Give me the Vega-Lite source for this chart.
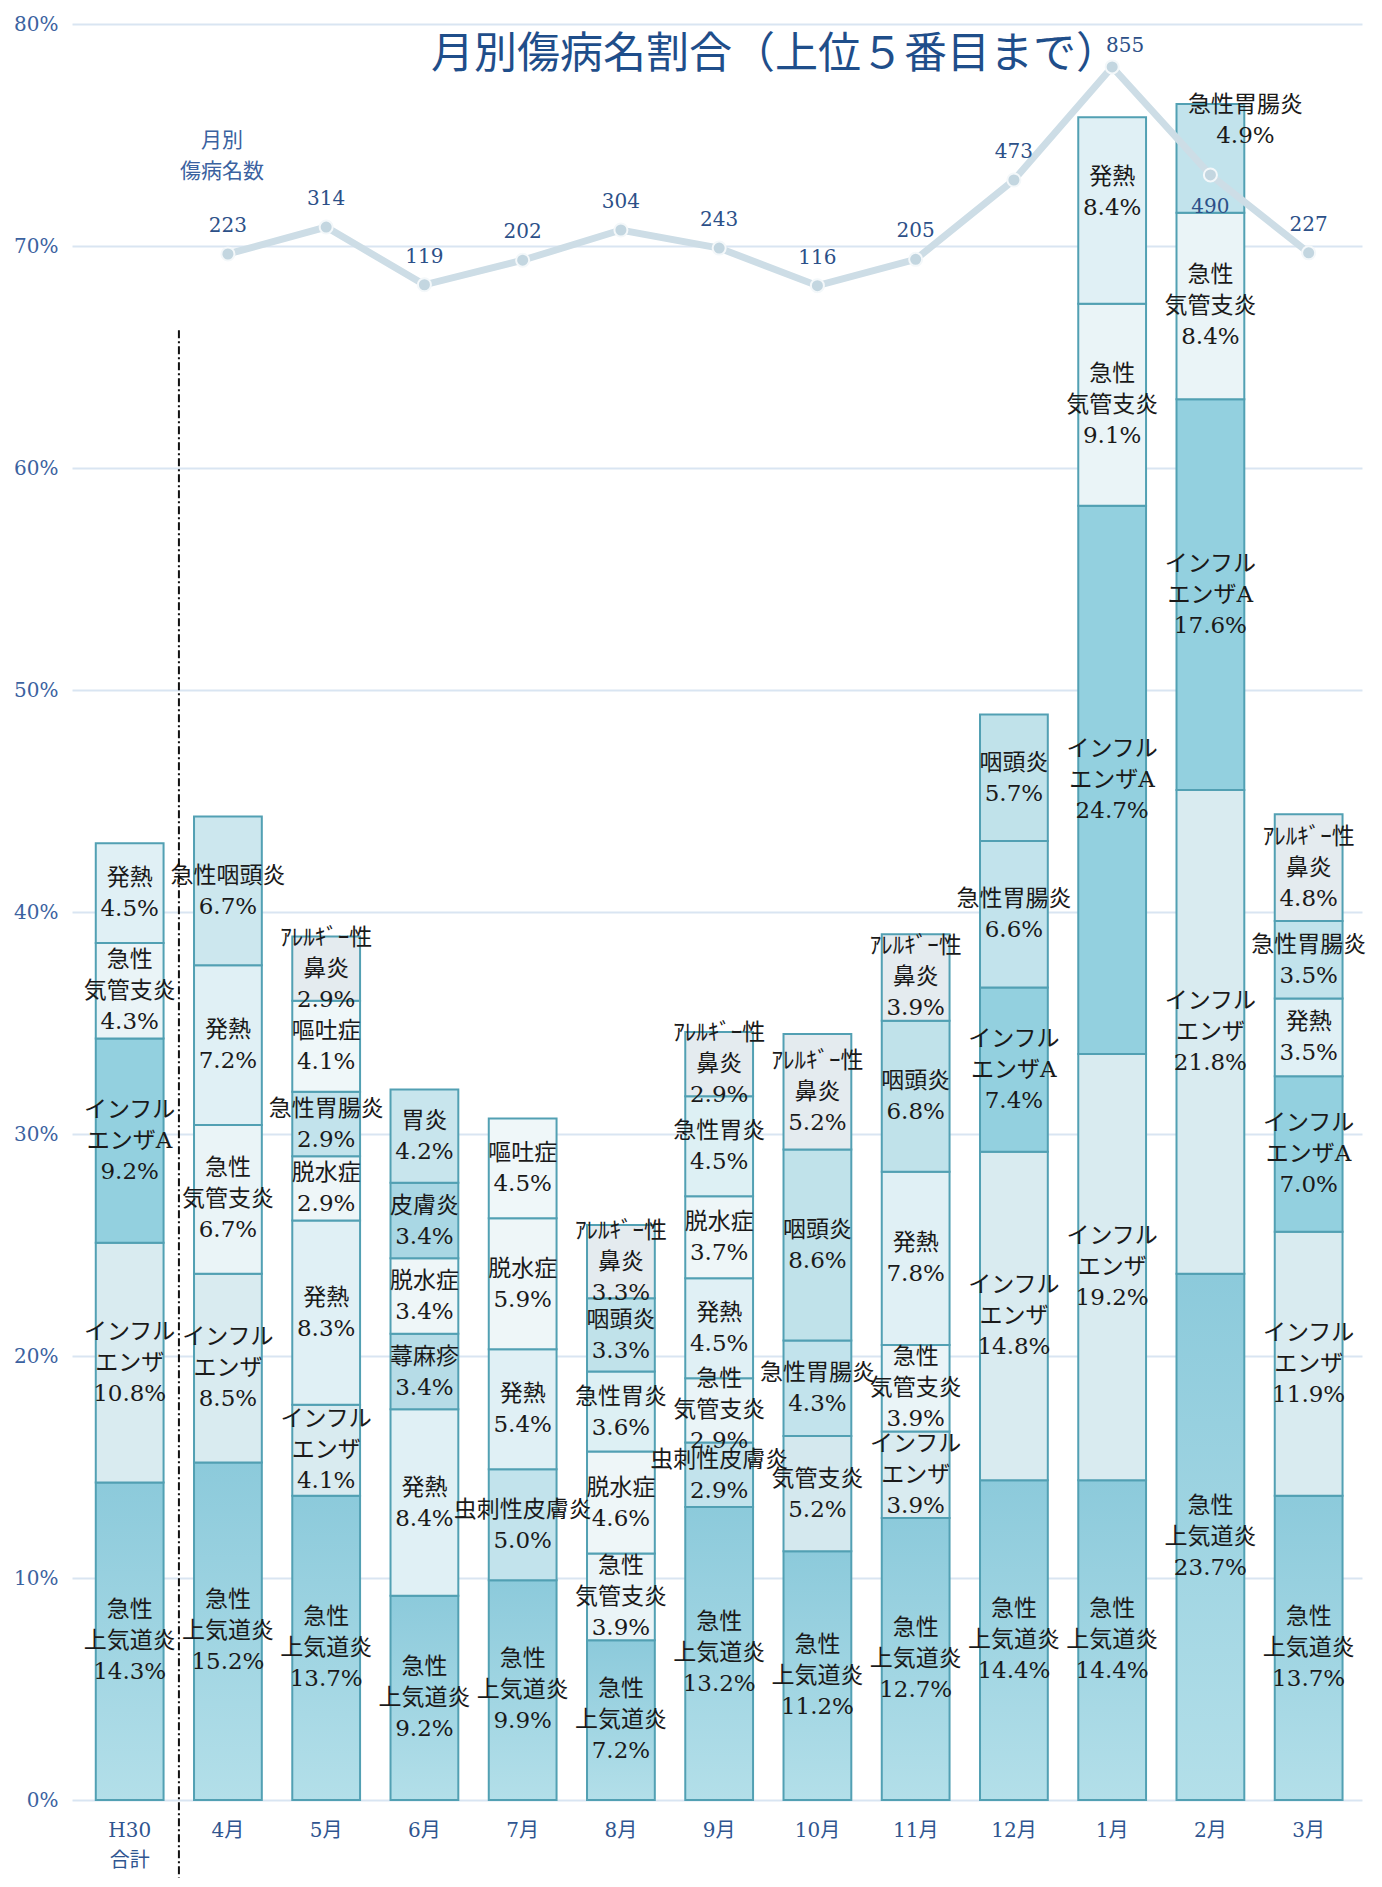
{
  "$schema": "https://vega.github.io/schema/vega-lite/v6.json",
  "width": 1290,
  "height": 1776,
  "autosize": {"type": "none"},
  "padding": {"left": 72, "top": 24, "right": 20, "bottom": 87},
  "background": "white",
  "config": {"view": {"stroke": null}},
  "title": {
    "text": "月別傷病名割合（上位５番目まで）",
    "font": "Noto Sans CJK JP",
    "fontSize": 43,
    "fontWeight": "normal",
    "color": "#1f4e8a",
    "anchor": "middle",
    "frame": "group",
    "baseline": "middle",
    "offset": -84,
    "dx": 58
  },
  "datasets": {
    "bars": [
      {"m": "H30合計", "o": 1, "d": "急性上気道炎", "p": 0.143},
      {"m": "H30合計", "o": 2, "d": "インフルエンザ", "p": 0.108},
      {"m": "H30合計", "o": 3, "d": "インフルエンザA", "p": 0.092},
      {"m": "H30合計", "o": 4, "d": "急性気管支炎", "p": 0.043},
      {"m": "H30合計", "o": 5, "d": "発熱", "p": 0.045},
      {"m": "4月", "o": 1, "d": "急性上気道炎", "p": 0.152},
      {"m": "4月", "o": 2, "d": "インフルエンザ", "p": 0.085},
      {"m": "4月", "o": 3, "d": "急性気管支炎", "p": 0.067},
      {"m": "4月", "o": 4, "d": "発熱", "p": 0.072},
      {"m": "4月", "o": 5, "d": "急性咽頭炎", "p": 0.067},
      {"m": "5月", "o": 1, "d": "急性上気道炎", "p": 0.137},
      {"m": "5月", "o": 2, "d": "インフルエンザ", "p": 0.041},
      {"m": "5月", "o": 3, "d": "発熱", "p": 0.083},
      {"m": "5月", "o": 4, "d": "脱水症", "p": 0.029},
      {"m": "5月", "o": 5, "d": "急性胃腸炎", "p": 0.029},
      {"m": "5月", "o": 6, "d": "嘔吐症", "p": 0.041},
      {"m": "5月", "o": 7, "d": "アレルギー性鼻炎", "p": 0.029},
      {"m": "6月", "o": 1, "d": "急性上気道炎", "p": 0.092},
      {"m": "6月", "o": 2, "d": "発熱", "p": 0.084},
      {"m": "6月", "o": 3, "d": "蕁麻疹", "p": 0.034},
      {"m": "6月", "o": 4, "d": "脱水症", "p": 0.034},
      {"m": "6月", "o": 5, "d": "皮膚炎", "p": 0.034},
      {"m": "6月", "o": 6, "d": "胃炎", "p": 0.042},
      {"m": "7月", "o": 1, "d": "急性上気道炎", "p": 0.099},
      {"m": "7月", "o": 2, "d": "虫刺性皮膚炎", "p": 0.05},
      {"m": "7月", "o": 3, "d": "発熱", "p": 0.054},
      {"m": "7月", "o": 4, "d": "脱水症", "p": 0.059},
      {"m": "7月", "o": 5, "d": "嘔吐症", "p": 0.045},
      {"m": "8月", "o": 1, "d": "急性上気道炎", "p": 0.072},
      {"m": "8月", "o": 2, "d": "急性気管支炎", "p": 0.039},
      {"m": "8月", "o": 3, "d": "脱水症", "p": 0.046},
      {"m": "8月", "o": 4, "d": "急性胃炎", "p": 0.036},
      {"m": "8月", "o": 5, "d": "咽頭炎", "p": 0.033},
      {"m": "8月", "o": 6, "d": "アレルギー性鼻炎", "p": 0.033},
      {"m": "9月", "o": 1, "d": "急性上気道炎", "p": 0.132},
      {"m": "9月", "o": 2, "d": "虫刺性皮膚炎", "p": 0.029},
      {"m": "9月", "o": 3, "d": "急性気管支炎", "p": 0.029},
      {"m": "9月", "o": 4, "d": "発熱", "p": 0.045},
      {"m": "9月", "o": 5, "d": "脱水症", "p": 0.037},
      {"m": "9月", "o": 6, "d": "急性胃炎", "p": 0.045},
      {"m": "9月", "o": 7, "d": "アレルギー性鼻炎", "p": 0.029},
      {"m": "10月", "o": 1, "d": "急性上気道炎", "p": 0.112},
      {"m": "10月", "o": 2, "d": "気管支炎", "p": 0.052},
      {"m": "10月", "o": 3, "d": "急性胃腸炎", "p": 0.043},
      {"m": "10月", "o": 4, "d": "咽頭炎", "p": 0.086},
      {"m": "10月", "o": 5, "d": "アレルギー性鼻炎", "p": 0.052},
      {"m": "11月", "o": 1, "d": "急性上気道炎", "p": 0.127},
      {"m": "11月", "o": 2, "d": "インフルエンザ", "p": 0.039},
      {"m": "11月", "o": 3, "d": "急性気管支炎", "p": 0.039},
      {"m": "11月", "o": 4, "d": "発熱", "p": 0.078},
      {"m": "11月", "o": 5, "d": "咽頭炎", "p": 0.068},
      {"m": "11月", "o": 6, "d": "アレルギー性鼻炎", "p": 0.039},
      {"m": "12月", "o": 1, "d": "急性上気道炎", "p": 0.144},
      {"m": "12月", "o": 2, "d": "インフルエンザ", "p": 0.148},
      {"m": "12月", "o": 3, "d": "インフルエンザA", "p": 0.074},
      {"m": "12月", "o": 4, "d": "急性胃腸炎", "p": 0.066},
      {"m": "12月", "o": 5, "d": "咽頭炎", "p": 0.057},
      {"m": "1月", "o": 1, "d": "急性上気道炎", "p": 0.144},
      {"m": "1月", "o": 2, "d": "インフルエンザ", "p": 0.192},
      {"m": "1月", "o": 3, "d": "インフルエンザA", "p": 0.247},
      {"m": "1月", "o": 4, "d": "急性気管支炎", "p": 0.091},
      {"m": "1月", "o": 5, "d": "発熱", "p": 0.084},
      {"m": "2月", "o": 1, "d": "急性上気道炎", "p": 0.237},
      {"m": "2月", "o": 2, "d": "インフルエンザ", "p": 0.218},
      {"m": "2月", "o": 3, "d": "インフルエンザA", "p": 0.176},
      {"m": "2月", "o": 4, "d": "急性気管支炎", "p": 0.084},
      {"m": "2月", "o": 5, "d": "急性胃腸炎", "p": 0.049},
      {"m": "3月", "o": 1, "d": "急性上気道炎", "p": 0.137},
      {"m": "3月", "o": 2, "d": "インフルエンザ", "p": 0.119},
      {"m": "3月", "o": 3, "d": "インフルエンザA", "p": 0.07},
      {"m": "3月", "o": 4, "d": "発熱", "p": 0.035},
      {"m": "3月", "o": 5, "d": "急性胃腸炎", "p": 0.035},
      {"m": "3月", "o": 6, "d": "アレルギー性鼻炎", "p": 0.048}
    ],
    "names": [
      {"d": "急性上気道炎", "label": "急性\n上気道炎"},
      {"d": "インフルエンザ", "label": "インフル\nエンザ"},
      {"d": "インフルエンザA", "label": "インフル\nエンザA"},
      {"d": "急性気管支炎", "label": "急性\n気管支炎"},
      {"d": "発熱", "label": "発熱"},
      {"d": "急性咽頭炎", "label": "急性咽頭炎"},
      {"d": "咽頭炎", "label": "咽頭炎"},
      {"d": "急性胃腸炎", "label": "急性胃腸炎"},
      {"d": "アレルギー性鼻炎", "label": "ｱﾚﾙｷﾞｰ性\n鼻炎"},
      {"d": "嘔吐症", "label": "嘔吐症"},
      {"d": "脱水症", "label": "脱水症"},
      {"d": "胃炎", "label": "胃炎"},
      {"d": "皮膚炎", "label": "皮膚炎"},
      {"d": "蕁麻疹", "label": "蕁麻疹"},
      {"d": "虫刺性皮膚炎", "label": "虫刺性皮膚炎"},
      {"d": "急性胃炎", "label": "急性胃炎"},
      {"d": "気管支炎", "label": "気管支炎"}
    ],
    "counts": [
      {"m": "4月", "n": 223},
      {"m": "5月", "n": 314},
      {"m": "6月", "n": 119},
      {"m": "7月", "n": 202},
      {"m": "8月", "n": 304},
      {"m": "9月", "n": 243},
      {"m": "10月", "n": 116},
      {"m": "11月", "n": 205},
      {"m": "12月", "n": 473},
      {"m": "1月", "n": 855},
      {"m": "2月", "n": 490},
      {"m": "3月", "n": 227}
    ]
  },
  "resolve": {"scale": {"y": "independent"}, "axis": {"y": "independent"}},
  "layer": [
    {
      "data": {"name": "bars"},
      "transform": [
        {"stack": "p", "groupby": ["m"], "sort": [{"field": "o", "order": "ascending"}], "as": ["y0", "y1"]},
        {"lookup": "d", "from": {"data": {"name": "names"}, "key": "d", "fields": ["label"]}},
        {"calculate": "(datum.y0 + datum.y1) / 2", "as": "ymid"},
        {"calculate": "datum.label + '\\n' + format(datum.p, '.1%')", "as": "txt"}
      ],
      "layer": [
        {
          "mark": {"type": "bar", "stroke": "#52a0b3", "strokeWidth": 2},
          "encoding": {
            "x": {
              "field": "m", "type": "nominal",
              "scale": {
                "domain": ["H30合計", "4月", "5月", "6月", "7月", "8月", "9月", "10月", "11月", "12月", "1月", "2月", "3月"],
                "paddingInner": 0.31, "paddingOuter": 0.22, "align": 0.55
              },
              "axis": {
                "title": null, "labelAngle": 0, "domain": false, "ticks": false,
                "labelFont": "DejaVu Serif, Noto Sans CJK JP", "labelFontSize": 20,
                "labelColor": "#2f5590", "labelPadding": 20, "labelBaseline": "top", "labelLineHeight": 30,
                "labelExpr": "datum.value == 'H30合計' ? ['H30', '合計'] : datum.value"
              }
            },
            "y": {
              "field": "y0", "type": "quantitative",
              "scale": {"domain": [0, 0.8], "nice": false},
              "axis": {
                "title": null, "format": ".0%", "values": [0, 0.1, 0.2, 0.3, 0.4, 0.5, 0.6, 0.7, 0.8],
                "domain": false, "ticks": false, "grid": true, "gridColor": "#d9e5f2", "gridWidth": 2,
                "labelFont": "DejaVu Serif", "labelFontSize": 20, "labelColor": "#3b62a0", "labelPadding": 14
              }
            },
            "y2": {"field": "y1"},
            "fill": {
              "condition": {
                "test": "datum.d === '急性上気道炎'",
                "value": {"gradient": "linear", "x1": 0, "y1": 0, "x2": 0, "y2": 1,
                  "stops": [{"offset": 0, "color": "#8ccadb"}, {"offset": 1, "color": "#b3dfe9"}]}
              },
              "field": "d", "type": "nominal", "legend": null,
              "scale": {
                "domain": ["急性上気道炎", "インフルエンザ", "インフルエンザA", "急性気管支炎", "発熱", "急性咽頭炎", "咽頭炎", "急性胃腸炎", "アレルギー性鼻炎", "嘔吐症", "脱水症", "胃炎", "皮膚炎", "蕁麻疹", "虫刺性皮膚炎", "急性胃炎", "気管支炎"],
                "range": ["#93cddd", "#d9ebf0", "#93d0df", "#eaf4f7", "#e0f0f5", "#cce7ee", "#c0e2ea", "#c2e3ec", "#e4ebef", "#eff7f9", "#eef6f8", "#c8e5ed", "#a9d7e4", "#b6dce7", "#c2e3ec", "#ddf0f4", "#d4e8ee"]
              }
            },
            "order": {"field": "o", "type": "quantitative"}
          }
        },
        {
          "transform": [{"filter": "indexof(datum.label, '\\n') >= 0"}],
          "mark": {"type": "text", "font": "DejaVu Serif, Noto Sans CJK JP", "fontSize": 23, "lineHeight": 31, "lineBreak": "\n", "color": "#1a1a1a", "baseline": "middle", "align": "center", "dy": -31},
          "encoding": {
            "x": {"field": "m", "type": "nominal"},
            "y": {"field": "ymid", "type": "quantitative"},
            "text": {"field": "txt"}
          }
        },
        {
          "transform": [{"filter": "indexof(datum.label, '\\n') < 0 && !(datum.m == '2月' && datum.d == '急性胃腸炎') && !(datum.m == '1月' && datum.d == '発熱')"}],
          "mark": {"type": "text", "font": "DejaVu Serif, Noto Sans CJK JP", "fontSize": 23, "lineHeight": 31, "lineBreak": "\n", "color": "#1a1a1a", "baseline": "middle", "align": "center", "dy": -15},
          "encoding": {
            "x": {"field": "m", "type": "nominal"},
            "y": {"field": "ymid", "type": "quantitative"},
            "text": {"field": "txt"}
          }
        },
        {
          "transform": [{"filter": "datum.m == '2月' && datum.d == '急性胃腸炎'"}],
          "mark": {"type": "text", "font": "DejaVu Serif, Noto Sans CJK JP", "fontSize": 23, "lineHeight": 31, "lineBreak": "\n", "color": "#1a1a1a", "baseline": "middle", "align": "center", "dy": -53, "dx": 35},
          "encoding": {
            "x": {"field": "m", "type": "nominal"},
            "y": {"field": "ymid", "type": "quantitative"},
            "text": {"field": "txt"}
          }
        },
        {
          "transform": [{"filter": "datum.m == '1月' && datum.d == '発熱'"}],
          "mark": {"type": "text", "font": "DejaVu Serif, Noto Sans CJK JP", "fontSize": 23, "lineHeight": 31, "lineBreak": "\n", "color": "#1a1a1a", "baseline": "middle", "align": "center", "dy": -33},
          "encoding": {
            "x": {"field": "m", "type": "nominal"},
            "y": {"field": "ymid", "type": "quantitative"},
            "text": {"field": "txt"}
          }
        },
        {
          "data": {"values": [{}]},
          "mark": {"type": "rule", "color": "#111111", "strokeWidth": 2, "strokeDash": [8, 3, 2, 3], "xOffset": -49},
          "encoding": {
            "x": {"datum": "4月"},
            "y": {"datum": 0.662},
            "y2": {"datum": -0.035}
          }
        }
      ]
    },
    {
      "data": {"name": "counts"},
      "layer": [
        {
          "mark": {"type": "line", "color": "#cddde6", "strokeWidth": 7},
          "encoding": {
            "x": {"field": "m", "type": "nominal"},
            "y": {"field": "n", "type": "quantitative", "scale": {"domain": [-5000, 1000], "nice": false}, "axis": null}
          }
        },
        {
          "mark": {"type": "point", "filled": true, "color": "#c3d6e0", "size": 170, "stroke": "#f4f8fa", "strokeWidth": 2, "opacity": 1},
          "encoding": {
            "x": {"field": "m", "type": "nominal"},
            "y": {"field": "n", "type": "quantitative"}
          }
        },
        {
          "transform": [{"filter": "datum.n != 490 && datum.n != 855"}],
          "mark": {"type": "text", "font": "DejaVu Serif", "fontSize": 20, "color": "#2c5088", "baseline": "middle", "dy": -28},
          "encoding": {
            "x": {"field": "m", "type": "nominal"},
            "y": {"field": "n", "type": "quantitative"},
            "text": {"field": "n"}
          }
        },
        {
          "transform": [{"filter": "datum.n == 490"}],
          "mark": {"type": "text", "font": "DejaVu Serif", "fontSize": 20, "color": "#2c5088", "baseline": "middle", "dy": 32},
          "encoding": {
            "x": {"field": "m", "type": "nominal"},
            "y": {"field": "n", "type": "quantitative"},
            "text": {"field": "n"}
          }
        },
        {
          "transform": [{"filter": "datum.n == 855"}],
          "mark": {"type": "text", "font": "DejaVu Serif", "fontSize": 20, "color": "#2c5088", "baseline": "middle", "dy": -21, "dx": 13},
          "encoding": {
            "x": {"field": "m", "type": "nominal"},
            "y": {"field": "n", "type": "quantitative"},
            "text": {"field": "n"}
          }
        },
        {
          "data": {"values": [{}]},
          "mark": {"type": "text", "text": ["月別", "傷病名数"], "font": "Noto Sans CJK JP", "fontSize": 21, "lineHeight": 31, "color": "#3b62a0", "baseline": "middle", "xOffset": -6},
          "encoding": {
            "x": {"datum": "4月"},
            "y": {"datum": 605}
          }
        }
      ]
    }
  ]
}
